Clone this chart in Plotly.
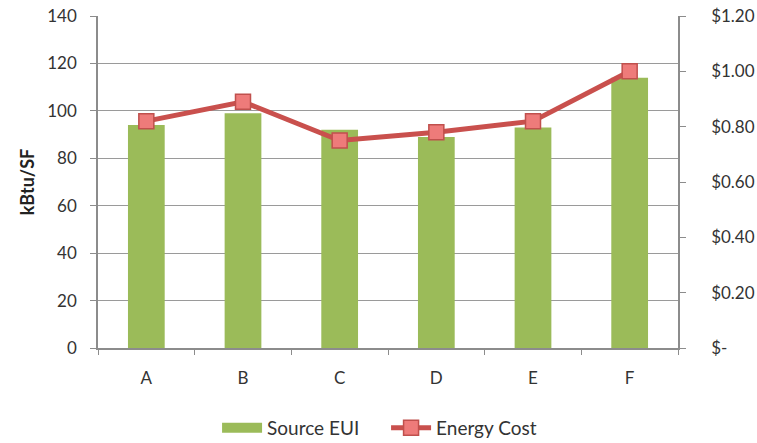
import plotly.graph_objects as go

# Buildings and their metrics
buildings = ["A", "B", "C", "D", "E", "F"]
source_eui = [94, 99, 92, 89, 93, 114]          # kBtu/SF
energy_cost = [0.82, 0.89, 0.75, 0.78, 0.82, 1.00]  # $/SF

cost_tick_vals = [0, 0.2, 0.4, 0.6, 0.8, 1.0, 1.2]
cost_tick_text = ["$-", "$0.20", "$0.40", "$0.60", "$0.80", "$1.00", "$1.20"]

font_family = "Lato, Open Sans, sans-serif"
axis_grey = "#8c8c8c"
bar_green = "#9BBB59"
text_color = "#333333"

fig = go.Figure()

fig.add_trace(go.Bar(
    x=buildings,
    y=source_eui,
    name="Source EUI",
    marker=dict(color=bar_green, line=dict(width=0)),
    width=0.38,
    legendgroup="eui",
    showlegend=False,
))

# Wide swatch for the bar series in the legend
fig.add_trace(go.Scatter(
    x=[None],
    y=[None],
    name="Source EUI",
    mode="lines",
    line=dict(color=bar_green, width=10),
    legendgroup="eui",
    hoverinfo="skip",
))

fig.add_trace(go.Scatter(
    x=buildings,
    y=energy_cost,
    name="Energy Cost",
    yaxis="y2",
    mode="lines+markers",
    line=dict(color="#C9504D", width=5),
    marker=dict(symbol="square", size=15, color="#EE7B7A",
                line=dict(color="#C0504D", width=1.5)),
))

fig.update_layout(
    width=757,
    height=443,
    margin=dict(l=98, r=79, t=16, b=95, autoexpand=False),
    paper_bgcolor="white",
    plot_bgcolor="white",
    font=dict(family=font_family, size=17, color=text_color),
    showlegend=True,
    legend=dict(
        orientation="h",
        xref="container", yref="container",
        x=0.510, xanchor="center",
        y=0.034, yanchor="middle",
        font=dict(size=19, color=text_color),
        itemwidth=40,
        entrywidth=114,
        entrywidthmode="pixels",
        tracegroupgap=0,
        traceorder="normal",
    ),
    xaxis=dict(
        showline=True, linecolor=axis_grey, linewidth=1.5,
        ticks="outside", tickson="boundaries", ticklen=5, tickcolor=axis_grey,
        ticklabelstandoff=14,
        showgrid=False,
        tickfont=dict(size=17, color=text_color),
    ),
    yaxis=dict(
        title=dict(text="<b>kBtu/SF</b>", font=dict(size=18, color="#222222"), standoff=8),
        range=[0, 140],
        dtick=20,
        showline=True, linecolor=axis_grey, linewidth=1.5,
        ticks="outside", ticklen=6, tickcolor=axis_grey,
        ticklabelstandoff=10,
        showgrid=True, gridcolor="#9a9a9a", gridwidth=1.2,
        zeroline=False,
        tickfont=dict(size=17, color=text_color),
    ),
    yaxis2=dict(
        overlaying="y",
        side="right",
        range=[0, 1.2],
        tickvals=cost_tick_vals,
        ticktext=cost_tick_text,
        showline=True, linecolor=axis_grey, linewidth=1.5,
        ticks="outside", ticklen=6, tickcolor=axis_grey,
        ticklabelstandoff=22,
        showgrid=False,
        zeroline=False,
        tickfont=dict(size=17, color=text_color),
    ),
    bargap=0.62,
)

fig.write_html("out.html")
